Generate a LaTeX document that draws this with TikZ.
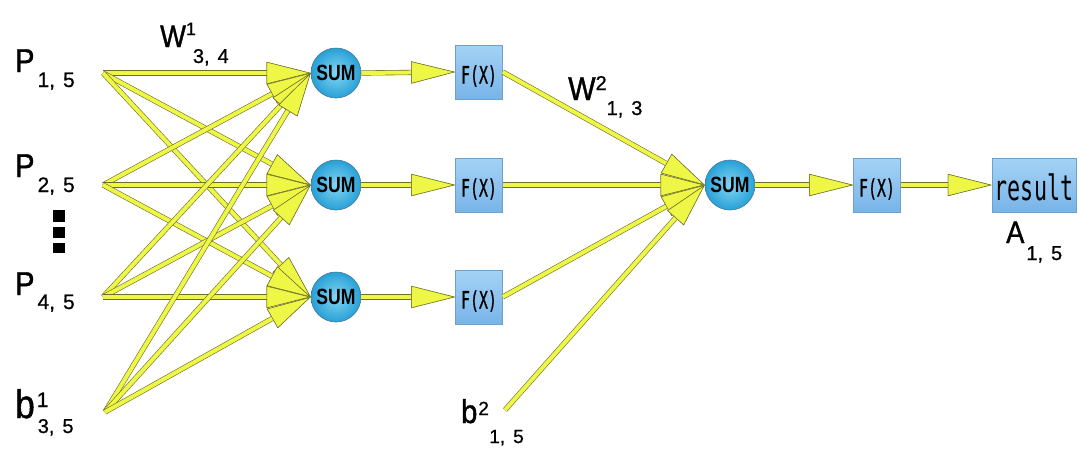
\documentclass[tikz,border=0pt]{standalone}
\usepackage{fontspec}
\setmainfont{Liberation Sans}
\newfontfamily\lblf[FakeStretch=0.88,FakeBold=1.2]{Liberation Sans}
\newfontfamily\subf[FakeBold=0.8]{Liberation Sans}
\newfontfamily\sumf[FakeStretch=0.80]{Liberation Sans}
\newfontfamily\monof[FakeStretch=0.62,FakeBold=0.6]{DejaVu Sans Mono}
\newfontfamily\resf[FakeStretch=0.62]{DejaVu Sans Mono}
\usetikzlibrary{arrows.meta}
\definecolor{ylw}{RGB}{238,246,70}
\definecolor{olv}{RGB}{110,110,40}
\definecolor{sumin}{RGB}{130,215,242}
\definecolor{sumout}{RGB}{40,160,215}
\definecolor{sumedge}{RGB}{70,120,150}
\definecolor{boxtop}{RGB}{165,210,245}
\definecolor{boxbot}{RGB}{120,180,232}
\definecolor{boxedge}{RGB}{110,160,205}
\newcommand\basetxt[2]{{\lblf\fontsize{#1}{#1}\selectfont #2}}
\newcommand\subtxt[3]{\raisebox{-#1pt}{\subf\fontsize{#2}{#2}\selectfont #3}}
\newcommand\suptxt[3]{\rlap{\raisebox{#1pt}{\subf\fontsize{#2}{#2}\selectfont #3}}}
\newcommand\idxgap{\hspace{8pt}}
\begin{document}
\begin{tikzpicture}[x=1pt,y=-1pt,
  sumnode/.style={circle, minimum size=50pt, inner sep=0pt, draw=sumedge, line width=0.6pt,
    inner color=sumin, outer color=sumout, font=\sumf\bfseries\fontsize{22}{22}\selectfont},
  fxbox/.style={rectangle, minimum width=47pt, minimum height=54pt, inner sep=0pt, draw=boxedge,
    line width=0.5pt, top color=boxtop, bottom color=boxbot},
  lbl/.style={inner sep=0pt, anchor=base west},
  conn/.style={draw=ylw, line width=4pt, preaction={draw=olv, line width=5.2pt},
    -{Triangle[length=44pt,width=22pt,fill=ylw,color=olv,line width=0.5pt]}},
  dotsq/.style={fill=black}]
\useasboundingbox (0,0) rectangle (1080,466);
% labels
\node[lbl] (p1) at (15,72) {\basetxt{33}{P}\hspace{3pt}\subtxt{15}{21}{1,\idxgap5}};
\node[lbl] (p2) at (15,177) {\basetxt{33}{P}\hspace{3pt}\subtxt{15}{21}{2,\idxgap5}};
\node[lbl] (p4) at (15,295) {\basetxt{33}{P}\hspace{3pt}\subtxt{14}{21}{4,\idxgap5}};
\node[lbl] (b1) at (15,418) {\basetxt{40}{b}\hspace{2pt}\suptxt{11}{21}{1}\hspace{1pt}\subtxt{15}{20}{3,\idxgap5}};
\node[lbl] (w1) at (160,47) {\basetxt{31}{W}\suptxt{12}{18}{1}\hspace{7pt}\subtxt{16}{20}{3,\idxgap4}};
\node[lbl] (w2) at (568,100) {\basetxt{33}{W}\suptxt{10}{20}{2}\hspace{11pt}\subtxt{15}{20}{1,\idxgap3}};
\node[lbl] (b2) at (461,423) {\basetxt{33}{b}\hspace{1pt}\suptxt{8}{19}{2}\hspace{11pt}\subtxt{20}{19}{1,\idxgap5}};
\node[lbl] (a1) at (1006,243) {\basetxt{31}{A}\hspace{2pt}\subtxt{17}{20}{1,\idxgap5}};
% vertical dots
\fill[dotsq] (53,210) rectangle (65,222);
\fill[dotsq] (53,227) rectangle (65,238);
\fill[dotsq] (53,243) rectangle (65,253);
% source points
\coordinate (sp1) at (103,73);
\coordinate (sp2) at (103,185);
\coordinate (sp4) at (103,297);
\coordinate (sb1) at (105,412);
\coordinate (sb2) at (505,410);
% nodes
\node[sumnode] (s1) at (336,73) {SUM};
\node[sumnode] (s2) at (336,185) {SUM};
\node[sumnode] (s3) at (336,297) {SUM};
\node[sumnode] (s4) at (730,185) {SUM};
\node[fxbox] (f1) at (479,72) {};
\node[fxbox] (f2) at (479,185) {};
\node[fxbox] (f3) at (479,297) {};
\node[fxbox] (f4) at (877,185) {};
\node[fxbox, minimum width=84pt] (res) at (1034,185) {};
\foreach \f in {f1,f2,f3,f4}{
  \node[inner sep=0pt, font=\monof\fontsize{24}{24}\selectfont] at ([yshift=-4pt]\f.center) {F(X)};
}
\node[inner sep=0pt, font=\resf\fontsize{35}{35}\selectfont, anchor=base] at ([yshift=-15pt]res.center) {result};
% connectors
\foreach \s in {sp1,sp2,sp4,sb1}{
  \foreach \t in {s1,s2,s3}{
    \draw[conn] (\s) -- (\t.west);
  }
}
\draw[conn] (s1.east) -- (f1.west);
\draw[conn] (s2.east) -- (f2.west);
\draw[conn] (s3.east) -- (f3.west);
\draw[conn] (f1.east) -- (s4.west);
\draw[conn] (f2.east) -- (s4.west);
\draw[conn] (f3.east) -- (s4.west);
\draw[conn] (sb2) -- (s4.west);
\draw[conn] (s4.east) -- (f4.west);
\draw[conn] (f4.east) -- (res.west);
\end{tikzpicture}
\end{document}
